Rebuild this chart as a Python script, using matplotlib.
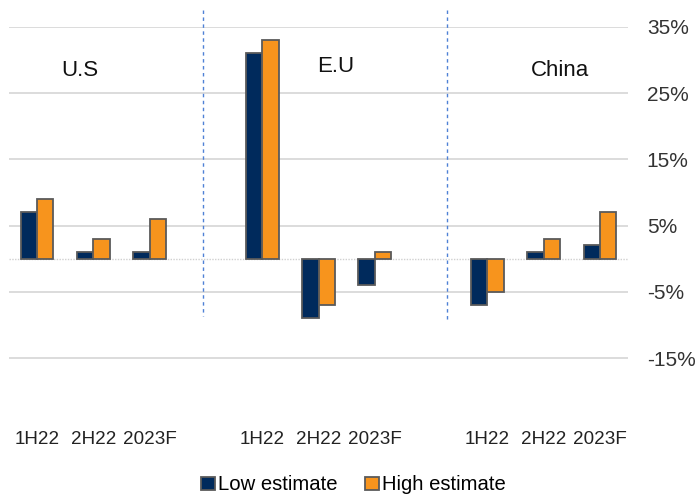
import matplotlib
matplotlib.use("Agg")
import matplotlib.pyplot as plt
import numpy as np

plt.rcParams['font.family'] = ['Liberation Sans', 'DejaVu Sans']

regions = ["U.S", "E.U", "China"]
periods = ["1H22", "2H22", "2023F"]
low_estimate = {"U.S": [7, 1, 1], "E.U": [31, -9, -4], "China": [-7, 1, 2]}
high_estimate = {"U.S": [9, 3, 6], "E.U": [33, -7, 1], "China": [-5, 3, 7]}
y_ticks = [35, 25, 15, 5, -5, -15]

navy = "#002a5c"
orange = "#f7941d"
edge = "#5a5a5a"

fig = plt.figure(figsize=(6.97, 4.97), dpi=100)
ax = fig.add_axes([9/697, 1-424.2/497, (628-9)/697, (424.2-27)/497])

positions = []
labels = []
lows = []
highs = []
for gi, r in enumerate(regions):
    for pi, p in enumerate(periods):
        positions.append(gi*4 + pi)
        labels.append(p)
        lows.append(low_estimate[r][pi])
        highs.append(high_estimate[r][pi])
positions = np.array(positions, dtype=float)

w = 0.29
ax.bar(positions - w/2, lows, w, color=navy, edgecolor=edge, linewidth=1.3, zorder=3, label="Low estimate")
ax.bar(positions + w/2, highs, w, color=orange, edgecolor=edge, linewidth=1.3, zorder=3, label="High estimate")

ax.set_xlim(-0.5, 10.5)
ax.set_ylim(-25, 35)
ax.set_yticks(y_ticks)
ax.set_yticklabels([f"{v}%" for v in y_ticks], fontsize=15, color="#333333")
ax.yaxis.tick_right()
ax.tick_params(axis='y', length=0, pad=13.5)
for v in y_ticks:
    ax.axhline(v, color="#d9d9d9", linewidth=1.3, zorder=1)
ax.axhline(0, color="#d0d0d0", linewidth=1.0, linestyle=(0, (1, 1)), zorder=2)

ax.set_xticks(positions)
ax.set_xticklabels(labels, fontsize=13.6, color="#222222")
ax.tick_params(axis='x', length=0, pad=5)
for s in ax.spines.values():
    s.set_visible(False)

# dashed separators
for xs, ybot in [(2.94, -8.6), (7.29, -9.3)]:
    ax.plot([xs, xs], [37.5, ybot], color="#4f81d6", linestyle=(0, (2.5, 2.5)),
            linewidth=1.0, clip_on=False, zorder=2)

# region labels
for xs, ys, t in [(0.75, 28.5, "U.S"), (5.3, 29.1, "E.U"), (9.3, 28.5, "China")]:
    ax.text(xs, ys, t, fontsize=16, ha='center', va='center', color="#111111")

handles, lbls = ax.get_legend_handles_labels()
fig.legend(handles, lbls, loc='center', bbox_to_anchor=(353.5/697, 1-485/497), ncol=2,
           frameon=False, fontsize=14.6, handlelength=0.68, handleheight=0.65,
           handletextpad=0.15, columnspacing=1.35, borderpad=0.2)

fig.savefig("out.png", dpi=100)
